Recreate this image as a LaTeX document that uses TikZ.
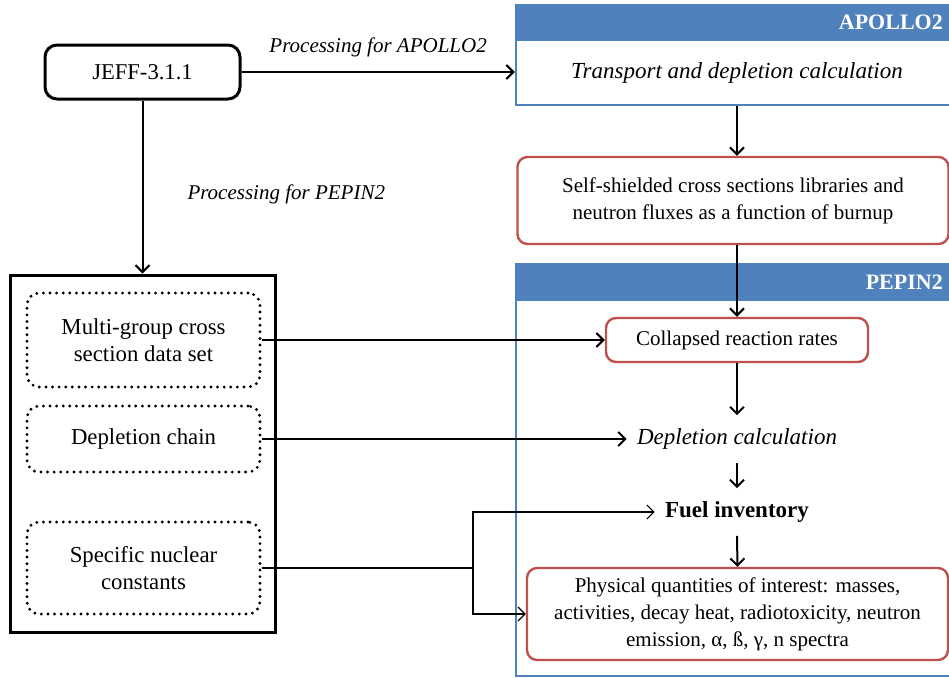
\documentclass[tikz,border=0pt]{standalone}
\usepackage{fontspec}
\setmainfont{Liberation Serif}
\usetikzlibrary{arrows.meta,positioning}
\definecolor{panelblue}{RGB}{79,129,189}
\definecolor{boxred}{RGB}{192,80,77}

\begin{document}
\begin{tikzpicture}[x=0.5pt, y=-0.5pt,
  every node/.style={font=\fontsize{10.5}{13.5}\selectfont, align=center, inner sep=0pt},
  flow/.style={-{Straight Barb[length=3.5pt,width=7pt]}, line width=1pt},
  thinflow/.style={-{Straight Barb[length=3.5pt,width=7pt]}, line width=0.6pt},
  redbox/.style={draw=boxred, line width=1.2pt, rounded corners=5pt, fill=white},
  dotbox/.style={draw, line width=1.6pt, dash pattern=on 0pt off 3.3pt, line cap=round,
    rounded corners=6pt, minimum width=116.5pt, font=\fontsize{11.4}{13.8}\selectfont},
  panel/.style={draw=panelblue, line width=1.2pt, fill=white},
  paneltag/.style={anchor=east, text=white, font=\bfseries\fontsize{11}{13}\selectfont},
  step text/.style={inner xsep=5pt, inner ysep=6.5pt}]
  \useasboundingbox (0,0) rectangle (949,677);

  \node[panel, minimum width=217pt, minimum height=50pt] (apollo) at (733,55) {};
  \fill[panelblue] (apollo.north west) rectangle ++(434,37);
  \node[paneltag] (apollotag) at ([shift={(-4pt,-9.5pt)}]apollo.north east) {APOLLO2};
  \node[font=\itshape\fontsize{11.5}{13.5}\selectfont] (transport) at (737,73) {Transport and depletion calculation};
  \node[redbox, minimum width=215.5pt, minimum height=43.5pt] (selfsh) at (733,200.5)
    {Self-shielded cross sections libraries and\\neutron fluxes as a function of burnup};

  \node[panel, minimum width=217pt, minimum height=206pt] (pepin) at (733,470) {};
  \fill[panelblue] (pepin.north west) rectangle ++(434,38);
  \node[paneltag] (pepintag) at ([shift={(-4pt,-9.5pt)}]pepin.north east) {PEPIN2};
  \node[redbox, minimum width=131pt, minimum height=22pt] (coll) at (737,340) {Collapsed reaction rates};
  \node[step text, font=\itshape\fontsize{11.5}{13.5}\selectfont] (depl) at (737,439) {Depletion calculation};
  \node[step text, font=\bfseries\fontsize{11.5}{13.5}\selectfont] (fuel) at (737,512) {Fuel inventory};
  \node[redbox, minimum width=210.5pt, minimum height=46pt] (phys) at (737.5,614)
    {Physical quantities of interest: masses,\\activities, decay heat, radiotoxicity, neutron\\emission, α, ß, γ, n spectra};

  \node[draw, rounded corners=6pt, line width=1.5pt, minimum width=97.5pt, minimum height=27pt,
    font=\fontsize{11.3}{13.5}\selectfont] (jeff) at (142.5,72) {JEFF-3.1.1};
  \node[draw, line width=1.5pt, minimum width=132.5pt, minimum height=178.5pt] (lib) at (142.5,453.5) {};
  \node[dotbox, minimum height=47pt] (mg) at (143.5,340) {Multi-group cross\\section data set};
  \node[dotbox, minimum height=33pt] (chain) at (143.5,439) {Depletion chain};
  \node[dotbox, minimum height=46pt] (spec) at (143.5,568) {Specific nuclear\\constants};
  \coordinate (split) at (473,568);

  \draw[flow] (jeff.east) -- (jeff.east -| apollo.west)
    node[midway, above=7pt] (toapollo) {\itshape Processing for APOLLO2};
  \draw[flow] (jeff.south) -- (lib.north)
    node[pos=0.545, right=22pt] (topepin) {\itshape Processing for PEPIN2};
  \draw[flow] (transport |- apollo.south) -- (transport |- selfsh.north);
  \draw[flow] (transport |- selfsh.south) -- (coll.north);
  \draw[flow] (coll.south) -- (depl.north);
  \draw[flow] (depl.south) -- (fuel.north);
  \draw[flow] (fuel.south) -- (phys.north);
  \draw[flow] (mg.east) -- (coll.west);
  \draw[flow] (chain.east) -- (depl.west);
  \draw[line width=0.6pt] (spec.east) -- (split);
  \draw[thinflow] (split) |- (fuel.west);
  \draw[thinflow] (split) |- (phys.west);
\end{tikzpicture}
\end{document}
